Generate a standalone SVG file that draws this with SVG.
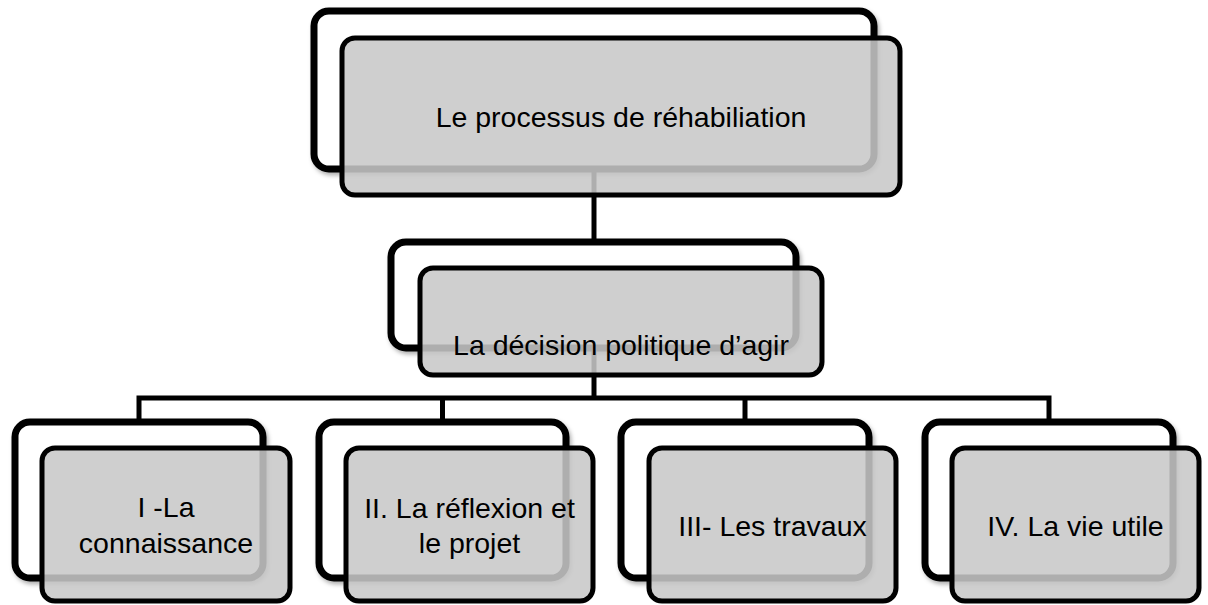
<svg xmlns="http://www.w3.org/2000/svg" width="1208" height="605" viewBox="0 0 1208 605">
  <style>
    .back { fill: #ffffff; stroke: #000000; stroke-width: 7; }
    .front { fill: #c8c8c8; fill-opacity: 0.87; stroke: #000000; stroke-width: 5; }
    .conn { fill: none; stroke: #000000; stroke-width: 5; stroke-linejoin: miter; }
    .lbl { font-family: "Liberation Sans", Arial, sans-serif; font-size: 28.5px; fill: #000000; text-anchor: middle; }
  </style>
  <defs>
    <filter id="shadow" x="-10%" y="-10%" width="120%" height="130%">
      <feDropShadow dx="2" dy="3" stdDeviation="2" flood-color="#000000" flood-opacity="0.3"/>
    </filter>
  </defs>
  <rect width="1208" height="605" fill="#ffffff"/>

  <g id="connectors">
    <path class="conn" d="M594 169 V242"/>
    <path class="conn" d="M594 348 V398"/>
    <path class="conn" d="M139 422 V398 H1049 V422"/>
    <path class="conn" d="M442.5 398 V422"/>
    <path class="conn" d="M745 398 V422"/>
  </g>

  <g id="node-top">
    <rect class="back" filter="url(#shadow)" x="314" y="11" width="560" height="158" rx="15"/>
    <rect class="front" x="342" y="38" width="558" height="157" rx="13"/>
    <text class="lbl" x="621" y="127">Le processus de réhabiliation</text>
  </g>

  <g id="node-decision">
    <rect class="back" filter="url(#shadow)" x="391" y="242" width="405" height="106" rx="15"/>
    <rect class="front" x="420" y="268" width="402" height="107" rx="13"/>
    <text class="lbl" x="621" y="355">La décision politique d’agir</text>
  </g>

  <g id="node-connaissance">
    <rect class="back" filter="url(#shadow)" x="15" y="422" width="248" height="156" rx="15"/>
    <rect class="front" x="42" y="448" width="248" height="153" rx="13"/>
    <text class="lbl" x="166" y="517">I -La</text>
    <text class="lbl" x="166" y="553">connaissance</text>
  </g>

  <g id="node-reflexion">
    <rect class="back" filter="url(#shadow)" x="319" y="422" width="247" height="156" rx="15"/>
    <rect class="front" x="346" y="448" width="247" height="153" rx="13"/>
    <text class="lbl" x="469.5" y="518">II. La réflexion et</text>
    <text class="lbl" x="469.5" y="553">le projet</text>
  </g>

  <g id="node-travaux">
    <rect class="back" filter="url(#shadow)" x="621" y="422" width="248" height="156" rx="15"/>
    <rect class="front" x="649" y="448" width="247" height="153" rx="13"/>
    <text class="lbl" x="772.5" y="536">III- Les travaux</text>
  </g>

  <g id="node-vie">
    <rect class="back" filter="url(#shadow)" x="925" y="422" width="248" height="156" rx="15"/>
    <rect class="front" x="952" y="448" width="247" height="153" rx="13"/>
    <text class="lbl" x="1075.5" y="536">IV. La vie utile</text>
  </g>
</svg>
